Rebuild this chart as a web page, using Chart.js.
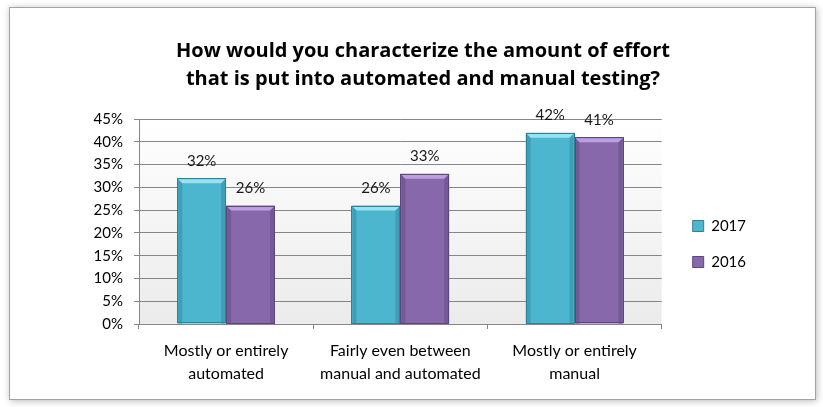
<!DOCTYPE html>
<html>
<head>
<meta charset="utf-8">
<script src="https://cdn.jsdelivr.net/npm/chart.js@4/dist/chart.umd.min.js"></script>
<style>
  html, body { margin: 0; padding: 0; background: #ffffff; width: 823px; height: 407px; overflow: hidden; }
  #frame { position: absolute; left: 9px; top: 7px; width: 805px; height: 391px;
           border: 1px solid #a3a3a3; box-shadow: 1px 1px 7px rgba(0,0,0,0.28); background: #fff; }
  canvas { display: block; }
</style>
</head>
<body>
<div id="frame"><canvas id="c" width="805" height="391"></canvas></div>
<script>
const titleLines = ['How would you characterize the amount of effort', 'that is put into automated and manual testing?'];
const categories = [['Mostly or entirely', 'automated'], ['Fairly even between', 'manual and automated'], ['Mostly or entirely', 'manual']];
const seriesLabels = ['2017', '2016'];
const values2017 = [32, 26, 42];
const values2016 = [26, 33, 41];
const yTickLabels = ['0%', '5%', '10%', '15%', '20%', '25%', '30%', '35%', '40%', '45%'];

const FONT = 'Lato, "Open Sans", "Liberation Sans", sans-serif';
const TITLE_FONT = '"Open Sans", Lato, "Liberation Sans", sans-serif';
const styles = [
  { face: '#4db6cf', top: '#93e3f4', side: '#3f9fb7', border: '#2f8196' },
  { face: '#8769ab', top: '#bb9fe2', side: '#735a96', border: '#5c4680' }
];

const plotBg = {
  id: 'plotBg',
  beforeDraw(chart) {
    const a = chart.chartArea, ctx = chart.ctx;
    const g = ctx.createLinearGradient(0, a.top, 0, a.bottom);
    g.addColorStop(0, '#ffffff');
    g.addColorStop(1, '#ebebeb');
    ctx.save();
    ctx.fillStyle = g;
    ctx.fillRect(a.left, a.top, a.right - a.left, a.bottom - a.top);
    ctx.restore();
  }
};

const bevel = {
  id: 'bevel',
  afterDatasetsDraw(chart) {
    const ctx = chart.ctx;
    chart.data.datasets.forEach((ds, di) => {
      const meta = chart.getDatasetMeta(di);
      const st = styles[di];
      meta.data.forEach(el => {
        const l = el.x - el.width / 2, r = el.x + el.width / 2, t = el.y, b = el.base;
        const e = 4;
        ctx.save();
        ctx.fillStyle = st.side;
        ctx.beginPath();
        ctx.moveTo(l + 1, t + 1); ctx.lineTo(l + 1 + e, t + 1 + e); ctx.lineTo(l + 1 + e, b); ctx.lineTo(l + 1, b);
        ctx.closePath(); ctx.fill();
        ctx.beginPath();
        ctx.moveTo(r - 1, t + 1); ctx.lineTo(r - 1 - e, t + 1 + e); ctx.lineTo(r - 1 - e, b); ctx.lineTo(r - 1, b);
        ctx.closePath(); ctx.fill();
        ctx.fillStyle = st.top;
        ctx.beginPath();
        ctx.moveTo(l + 1, t + 1); ctx.lineTo(r - 1, t + 1); ctx.lineTo(r - 1 - e, t + 1 + e); ctx.lineTo(l + 1 + e, t + 1 + e);
        ctx.closePath(); ctx.fill();
        ctx.strokeStyle = st.border; ctx.lineWidth = 1;
        ctx.strokeRect(Math.round(l) + 0.5, Math.round(t) + 0.5, Math.round(r - l) - 1, Math.round(b - t) - 1);
        ctx.restore();
      });
    });
  }
};

const valueLabels = {
  id: 'valueLabels',
  afterDatasetsDraw(chart) {
    const ctx = chart.ctx;
    ctx.save();
    ctx.font = '15px ' + FONT;
    ctx.fillStyle = '#1a1a1a';
    ctx.textAlign = 'center';
    ctx.textBaseline = 'middle';
    chart.data.datasets.forEach((ds, di) => {
      chart.getDatasetMeta(di).data.forEach((el, i) => {
        ctx.fillText(ds.data[i] + '%', el.x, el.y - 17.5);
      });
    });
    ctx.restore();
  }
};

new Chart(document.getElementById('c'), {
  type: 'bar',
  data: {
    labels: categories,
    datasets: [
      { label: seriesLabels[0], data: values2017, yAxisID: 'y', backgroundColor: styles[0].face, borderColor: styles[0].border, borderWidth: 0 },
      { label: seriesLabels[1], data: values2016, yAxisID: 'y', backgroundColor: styles[1].face, borderColor: styles[1].border, borderWidth: 0 }
    ]
  },
  options: {
    responsive: false,
    animation: false,
    devicePixelRatio: 1,
    categoryPercentage: 0.561,
    barPercentage: 1,
    layout: { padding: { left: 80, right: 59, top: 0, bottom: 0 } },
    plugins: {
      title: {
        display: true,
        text: titleLines,
        color: '#000000',
        font: { family: TITLE_FONT, size: 20, weight: 'bold', lineHeight: 28 / 20 },
        padding: { top: 29, bottom: 26 }
      },
      legend: {
        display: true,
        position: 'right',
        align: 'center',
        fullSize: false,
        title: { display: true, text: '', font: { size: 10, lineHeight: 1 }, padding: { top: 35, bottom: 0 } },
        labels: {
          color: '#000000',
          font: { family: FONT, size: 15 },
          boxWidth: 11,
          boxHeight: 11,
          padding: 21,
          generateLabels(chart) {
            return chart.data.datasets.map((ds, i) => ({
              text: ds.label, fillStyle: styles[i].face, strokeStyle: styles[i].border,
              lineWidth: 1, hidden: false, datasetIndex: i, fontColor: '#000000'
            }));
          }
        }
      },
      tooltip: { enabled: false }
    },
    scales: {
      x: {
        grid: { display: true, drawOnChartArea: false, drawTicks: true, tickLength: 5, color: '#868686', offset: true },
        border: { display: true, color: '#868686' },
        ticks: { color: '#000000', font: { family: FONT, size: 16, lineHeight: 1.4 }, padding: 11, maxRotation: 0, autoSkip: false },
        afterFit(s) { s.height = 75; }
      },
      y: {
        position: 'left',
        min: 0, max: 45,
        grid: { color: '#868686', drawTicks: true, tickLength: 5 },
        border: { display: true, color: '#868686' },
        ticks: { stepSize: 5, padding: 11, color: '#000000', font: { family: FONT, size: 15 },
                 callback: (v, i) => yTickLabels[i] },
        afterFit(s) { s.width = 49; }
      },
      gap: {
        type: 'linear', position: 'right', display: true,
        grid: { display: false }, border: { display: false }, ticks: { display: false },
        afterFit(s) { s.width = 10; }
      }
    }
  },
  plugins: [plotBg, bevel, valueLabels]
});
</script>
</body>
</html>
